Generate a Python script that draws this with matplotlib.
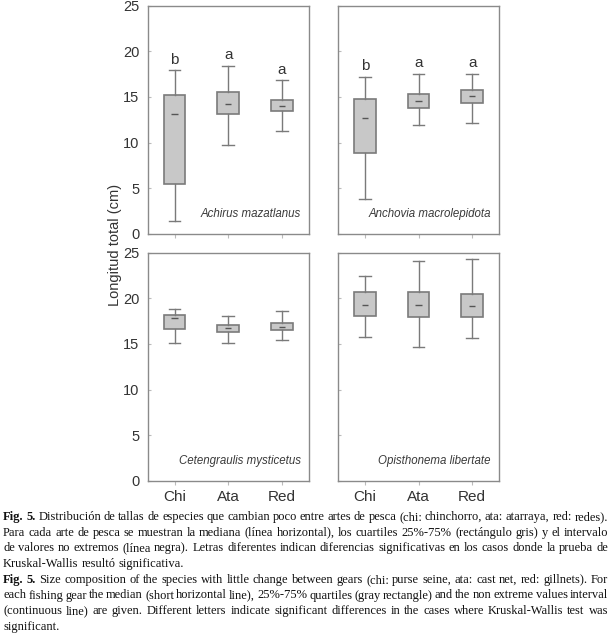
import matplotlib.pyplot as plt

plt.rcParams['font.family'] = ['Liberation Sans', 'DejaVu Sans']

# artes de pesca
artes = ['Chi', 'Ata', 'Red']

# especies (orden: arriba izq, arriba der, abajo izq, abajo der)
especies = ['Achirus mazatlanus', 'Anchovia macrolepidota',
            'Cetengraulis mysticetus', 'Opisthonema libertate']

# estadisticos (Chi, Ata, Red)
minimos = [[1.4, 9.7, 11.3], [3.8, 11.9, 12.1], [15.1, 15.1, 15.4], [15.8, 14.7, 15.7]]
q25 = [[5.5, 13.1, 13.4], [8.8, 13.8, 14.3], [16.6, 16.3, 16.5], [18.1, 18.0, 18.0]]
medianas = [[13.1, 14.2, 14.0], [12.7, 14.6, 15.1], [17.8, 16.7, 16.9], [19.3, 19.3, 19.2]]
q75 = [[15.2, 15.5, 14.7], [14.8, 15.3, 15.8], [18.2, 17.1, 17.3], [20.7, 20.7, 20.5]]
maximos = [[17.9, 18.4, 16.8], [17.2, 17.5, 17.5], [18.8, 18.1, 18.6], [22.5, 24.1, 24.3]]

# letras de significancia (solo paneles de arriba)
letras = [['b', 'a', 'a'], ['b', 'a', 'a'], None, None]

gris_borde = '#7a7a7a'
gris_caja = '#c8c8c8'

fig = plt.figure(figsize=(6.16, 6.34), dpi=100)

W, H = 616, 634
posiciones = [(147.7, 5.7), (338, 5.7), (147.7, 252.7), (338, 252.7)]
ancho, alto = 161, 228

for k in range(4):
    x0, y0 = posiciones[k]
    ax = fig.add_axes([x0 / W, 1 - (y0 + alto) / H, ancho / W, alto / H])
    stats = []
    for j in range(3):
        stats.append({'med': medianas[k][j], 'q1': q25[k][j], 'q3': q75[k][j],
                      'whislo': minimos[k][j], 'whishi': maximos[k][j], 'fliers': []})
    ax.bxp(stats, positions=[1, 2, 3], widths=0.4, capwidths=0.22, patch_artist=True,
           showfliers=False,
           boxprops=dict(facecolor=gris_caja, edgecolor=gris_borde, linewidth=1.2),
           whiskerprops=dict(color=gris_borde, linewidth=1),
           capprops=dict(color=gris_borde, linewidth=1),
           medianprops=dict(linewidth=0))
    # mediana como linea corta
    ax.hlines(medianas[k], [p - 0.06 for p in [1, 2, 3]], [p + 0.06 for p in [1, 2, 3]],
              color='#555555', linewidth=1)
    if letras[k] is not None:
        for j in range(3):
            ax.text(j + 1, maximos[k][j] + 0.4, letras[k][j], ha='center', va='bottom',
                    fontsize=11, color='#333333')
    ax.text(0.95, 0.085, especies[k], transform=ax.transAxes, ha='right', va='center',
            fontsize=8.3, style='italic', color='#3a3a3a')
    ax.set_xlim(0.5, 3.5)
    ax.set_ylim(0, 25)
    ax.set_yticks([0, 5, 10, 15, 20, 25])
    ax.set_xticks([1, 2, 3])
    for s in ax.spines.values():
        s.set_color('#8a8a8a')
        s.set_linewidth(1)
    ax.tick_params(axis='y', direction='in', length=2, color='#bbbbbb', labelsize=10.5,
                   labelcolor='#333333', pad=6)
    ax.tick_params(axis='x', direction='out', length=3, color='#bbbbbb', labelsize=11,
                   labelcolor='#333333', pad=4)
    if k % 2 == 1:
        ax.set_yticklabels([])
    if k < 2:
        ax.set_xticklabels([])
    else:
        ax.set_xticklabels(artes)

fig.text(115 / W, 1 - 245 / H, 'Longitud total (cm)', rotation=90, ha='center', va='center',
         fontsize=10.5, color='#333333')

# leyenda de la figura, justificada
lineas = [
    ('Fig. 5.', 'Distribución de tallas de especies que cambian poco entre artes de pesca (chi: chinchorro, ata: atarraya, red: redes).', True),
    ('', 'Para cada arte de pesca se muestran la mediana (línea horizontal), los cuartiles 25%-75% (rectángulo gris) y el intervalo', True),
    ('', 'de valores no extremos (línea negra). Letras diferentes indican diferencias significativas en los casos donde la prueba de', True),
    ('', 'Kruskal-Wallis resultó significativa.', False),
    ('Fig. 5.', 'Size composition of the species with little change between gears (chi: purse seine, ata: cast net, red: gillnets). For', True),
    ('', 'each fishing gear the median (short horizontal line), 25%-75% quartiles (gray rectangle) and the non extreme values interval', True),
    ('', '(continuous line) are given. Different letters indicate significant differences in the cases where Kruskal-Wallis test was', True),
    ('', 'significant.', False),
]

renderer = fig.canvas.get_renderer()
x_izq, x_der = 3, 608
y_ini, paso = 517, 15.7
fs = 9.0
for i, (negrita, texto, justificar) in enumerate(lineas):
    palabras = []
    if negrita:
        palabras += [(p, 'bold') for p in negrita.split()]
    palabras += [(p, 'normal') for p in texto.split()]
    y = 1 - (y_ini + i * paso) / H
    objs = []
    for p, peso in palabras:
        t = fig.text(0, y, p, fontsize=fs, family='Liberation Serif', weight=peso,
                     va='center', ha='left', color='#111111')
        objs.append(t)
    anchos = [t.get_window_extent(renderer).width for t in objs]
    espacio_nat = fs * 100 / 72 * 0.25
    if justificar and len(objs) > 1:
        espacio = (x_der - x_izq - sum(anchos)) / (len(objs) - 1)
    else:
        espacio = espacio_nat
    x = x_izq
    for t, w in zip(objs, anchos):
        t.set_x(x / W)
        x += w + espacio

fig.savefig('out.png', dpi=100)
